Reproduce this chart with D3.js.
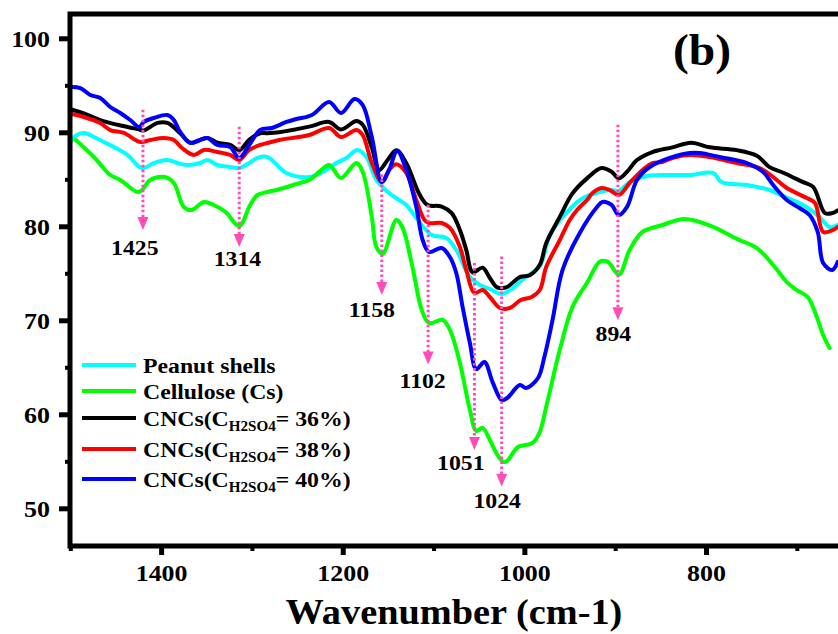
<!DOCTYPE html>
<html><head><meta charset="utf-8">
<script src="https://cdn.jsdelivr.net/npm/d3@7"></script>
<style>body{margin:0;background:#fff}</style>
</head><body>
<svg id="c" width="838" height="634"></svg>
<script>
// ---- data: [wavenumber (cm-1), transmittance (%)] ----
const peanutShells = [[1500,88.97],[1493,89.71],[1484,89.93],[1474,89.50],[1463,88.97],[1452,88.44],[1437,87.59],[1424,86.31],[1419,86.20],[1408,86.73],[1393,87.05],[1382,86.73],[1371,86.52],[1357,86.73],[1349,87.05],[1338,86.52],[1324,86.31],[1314,86.20],[1303,86.73],[1294,87.27],[1283,87.37],[1262,85.67],[1237,85.24],[1222,85.78],[1207,86.73],[1196,87.27],[1184,88.12],[1174,87.37],[1163,84.93],[1149,83.54],[1138,82.80],[1130,82.27],[1119,80.88],[1102,79.07],[1086,78.75],[1075,77.48],[1060,74.60],[1049,73.76],[1038,73.33],[1025,72.80],[1014,73.33],[1000,74.50],[983,75.77],[972,79.07],[956,81.20],[937,82.91],[917,83.65],[904,83.86],[896,83.76],[884,84.71],[865,85.35],[840,85.46],[818,85.46],[792,85.67],[783,84.71],[755,84.39],[730,83.86],[715,83.22],[693,82.27],[675,81.00],[664,79.93],[655,80.14]];
const cellulose = [[1494,89.18],[1474,87.37],[1456,85.46],[1445,84.93],[1426,83.65],[1421,83.86],[1412,84.93],[1396,85.24],[1386,84.61],[1375,82.06],[1366,81.74],[1353,82.59],[1342,82.27],[1329,81.52],[1314,80.03],[1302,82.27],[1294,83.33],[1283,83.65],[1273,83.86],[1251,84.50],[1237,84.93],[1226,85.78],[1215,86.52],[1202,85.14],[1185,86.73],[1178,85.78],[1168,81.00],[1163,77.80],[1156,77.06],[1141,80.67],[1134,79.82],[1123,75.56],[1113,71.09],[1105,69.71],[1090,70.05],[1082,68.98],[1071,65.47],[1060,60.47],[1053,58.24],[1046,58.56],[1038,57.28],[1031,55.90],[1023,54.93],[1019,55.03],[1007,56.52],[991,56.95],[983,58.12],[976,60.78],[961,66.86],[947,71.43],[931,73.99],[917,76.22],[908,76.22],[896,74.84],[884,77.50],[870,79.40],[848,80.14],[826,80.78],[815,80.67],[792,79.93],[766,78.66],[744,77.69],[726,75.88],[711,74.07],[700,73.22],[688,72.48],[678,70.35],[671,68.44],[664,67.05]];
const cncs36 = [[1498,92.4],[1485,92.0],[1467,91.3],[1448,90.8],[1424,90.3],[1419,90.2],[1404,91.0],[1393,91.0],[1379,89.9],[1368,88.9],[1357,89.2],[1349,89.4],[1338,88.9],[1324,88.65],[1314,88.1],[1303,89.2],[1291,89.9],[1283,89.9],[1270,90.0],[1237,90.6],[1215,91.1],[1202,90.3],[1185,91.2],[1178,90.8],[1168,88.4],[1160,86.0],[1151,87.0],[1141,88.1],[1130,86.7],[1116,83.5],[1107,82.3],[1091,82.1],[1080,81.4],[1071,79.6],[1064,77.5],[1057,75.1],[1046,75.6],[1038,74.5],[1030,73.5],[1020,73.5],[1005,74.6],[994,74.8],[983,75.9],[976,78.2],[961,81.0],[947,83.5],[931,85.1],[915,86.2],[904,85.8],[896,85.1],[887,85.8],[876,87.05],[859,87.9],[837,88.4],[816,88.9],[796,88.4],[766,88.1],[744,87.5],[730,86.3],[715,85.7],[693,84.7],[682,84.2],[669,81.4],[661,81.4],[655,81.7]];
const cncs38 = [[1498,91.95],[1485,91.63],[1467,90.99],[1456,90.24],[1441,89.93],[1423,88.97],[1412,89.18],[1397,89.39],[1386,89.18],[1377,88.33],[1364,87.59],[1353,88.12],[1338,87.90],[1324,87.59],[1314,87.05],[1303,88.12],[1291,88.65],[1283,88.86],[1270,89.18],[1237,89.71],[1215,90.46],[1202,89.50],[1185,90.24],[1178,89.71],[1168,86.73],[1157,84.71],[1149,85.99],[1141,86.6],[1130,85.67],[1119,82.80],[1110,80.67],[1105,80.35],[1091,80.35],[1082,79.82],[1071,77.80],[1064,75.35],[1055,72.91],[1046,73.22],[1038,72.48],[1027,71.31],[1016,71.31],[1004,72.16],[992,72.48],[983,73.22],[976,75.67],[961,78.54],[950,80.67],[942,81.74],[931,82.80],[925,83.54],[915,84.07],[906,83.86],[896,83.33],[884,84.61],[870,85.99],[859,86.73],[848,86.84],[837,87.27],[818,87.59],[796,87.37],[766,86.73],[741,86.20],[726,85.24],[711,84.07],[689,83.01],[680,82.48],[671,79.40],[660,79.61],[655,79.93]];
const cncs40 = [[1498,94.82],[1489,94.71],[1478,93.97],[1467,93.65],[1456,92.69],[1445,92.05],[1434,91.31],[1424,90.56],[1419,91.10],[1408,91.52],[1393,91.84],[1386,91.31],[1379,90.03],[1368,88.86],[1357,89.18],[1349,89.39],[1338,88.65],[1324,88.44],[1314,87.27],[1303,88.65],[1291,90.24],[1278,90.46],[1262,91.10],[1251,91.41],[1234,91.84],[1215,93.22],[1202,92.05],[1187,93.54],[1178,92.90],[1168,89.50],[1157,84.71],[1149,85.99],[1140,88.01],[1130,85.99],[1119,82.06],[1112,78.54],[1105,77.27],[1091,77.69],[1082,76.73],[1075,75.03],[1068,71.41],[1060,67.58],[1053,64.81],[1044,65.56],[1035,63.43],[1025,61.52],[1019,61.73],[1005,63.11],[998,62.79],[985,63.86],[978,66.10],[969,70.03],[958,75.35],[939,79.29],[920,82.06],[914,82.59],[904,82.27],[896,81.20],[887,82.06],[876,84.93],[862,86.31],[840,87.27],[818,87.80],[807,87.80],[785,87.37],[755,86.73],[737,85.78],[726,84.39],[711,82.80],[697,81.95],[686,81.20],[677,79.40],[671,76.10],[661,75.35],[655,76.21]];

const seriesData = [peanutShells, cellulose, cncs36, cncs38, cncs40];
const seriesColors = ["#00ffff", "#00ff00", "#000000", "#ff0000", "#0000ff"];
const legendMain = ["Peanut shells", "Cellulose (Cs)", "CNCs(C", "CNCs(C", "CNCs(C"];
const legendSub = ["", "", "H2SO4", "H2SO4", "H2SO4"];
const legendTail = ["", "", "= 36%)", "= 38%)", "= 40%)"];

// peak annotations
const peakLabels = ["1425", "1314", "1158", "1102", "1051", "1024", "894"];
const peakWn = [1420, 1314, 1157, 1106, 1055, 1025, 897];
const arrowTop = [92.4, 90.6, 85.5, 82.3, 76.1, 76.8, 90.8];
const arrowTip = [79.6, 77.8, 72.7, 65.3, 56.2, 52.3, 70.0];
const labelWn = [1429, 1316, 1168, 1112, 1070, 1030, 902];
const labelT = [76.9, 75.8, 70.3, 62.8, 54.1, 50.0, 67.8];

const xTicks = [1400, 1200, 1000, 800];
const xMinorTicks = [1500, 1300, 1100, 900, 700];
const yTicks = [50, 60, 70, 80, 90, 100];
const yMinorTicks = [55, 65, 75, 85, 95];

// ---- layout ----
const S = 1.08; // horizontal text stretch
const svg = d3.select("#c");
svg.append("rect").attr("width", 838).attr("height", 634).attr("fill", "#fff");
const x = d3.scaleLinear().domain([1500, 800]).range([70.3, 706]);
const y = d3.scaleLinear().domain([50, 100]).range([508.3, 38.3]);
const plotLeft = 70, plotTop = 14, plotBottom = 546;
const font = "'Liberation Serif','Times New Roman',serif";

svg.append("clipPath").attr("id", "clip").append("rect")
  .attr("x", plotLeft).attr("y", plotTop).attr("width", 900).attr("height", plotBottom - plotTop);

const line = d3.line().x(d => x(d[0])).y(d => y(d[1])).curve(d3.curveCatmullRom.alpha(0.5));
const plot = svg.append("g").attr("clip-path", "url(#clip)");
seriesData.forEach((s, i) => {
  plot.append("path").attr("d", line(s)).attr("fill", "none")
    .attr("stroke", seriesColors[i]).attr("stroke-width", 4)
    .attr("stroke-linejoin", "round").attr("stroke-linecap", "round");
});

// arrows
const pink = "#ff4db8";
peakLabels.forEach((lab, i) => {
  const px = x(peakWn[i]);
  const yt = y(arrowTop[i]), yb = y(arrowTip[i]);
  svg.append("line").attr("x1", px).attr("x2", px).attr("y1", yt).attr("y2", yb - 10)
    .attr("stroke", pink).attr("stroke-width", 3).attr("stroke-dasharray", "2.5,2.5");
  svg.append("path").attr("d", `M${px - 5.5},${yb - 13}L${px + 5.5},${yb - 13}L${px},${yb}Z`).attr("fill", pink);
  svg.append("text").attr("transform", `translate(${x(labelWn[i])},${y(labelT[i])}) scale(${S},1)`)
    .attr("text-anchor", "middle").attr("font-family", font).attr("font-weight", "bold")
    .attr("font-size", 22).attr("fill", "#000").text(lab);
});

// frame
svg.append("rect").attr("x", plotLeft).attr("y", plotTop).attr("width", 900).attr("height", plotBottom - plotTop)
  .attr("fill", "none").attr("stroke", "#000").attr("stroke-width", 5);

// x axis
const gx = svg.append("g").attr("transform", `translate(0,${plotBottom})`)
  .call(d3.axisBottom(x).tickValues(xTicks).tickSize(9).tickSizeOuter(0).tickFormat(d3.format("d")));
gx.select(".domain").remove();
gx.selectAll("line").attr("stroke", "#000").attr("stroke-width", 5);
gx.selectAll("text").attr("y", 0).attr("dy", 0).attr("transform", `translate(0,35) scale(${S},1)`)
  .attr("font-family", font).attr("font-weight", "bold").attr("font-size", 24).attr("fill", "#000");
const gxm = svg.append("g").attr("transform", `translate(0,${plotBottom})`)
  .call(d3.axisBottom(x).tickValues(xMinorTicks).tickSize(5).tickSizeOuter(0).tickFormat(""));
gxm.select(".domain").remove();
gxm.selectAll("line").attr("stroke", "#000").attr("stroke-width", 4);

// y axis
const gy = svg.append("g").attr("transform", `translate(${plotLeft},0)`)
  .call(d3.axisLeft(y).tickValues(yTicks).tickSize(11).tickSizeOuter(0).tickFormat(d3.format("d")));
gy.select(".domain").remove();
gy.selectAll("line").attr("stroke", "#000").attr("stroke-width", 5);
gy.selectAll("text").attr("x", 0).attr("dy", "0.35em").attr("transform", `translate(-20,0) scale(${S},1)`)
  .attr("font-family", font).attr("font-weight", "bold").attr("font-size", 24).attr("fill", "#000");
const gym = svg.append("g").attr("transform", `translate(${plotLeft},0)`)
  .call(d3.axisLeft(y).tickValues(yMinorTicks).tickSize(5).tickSizeOuter(0).tickFormat(""));
gym.select(".domain").remove();
gym.selectAll("line").attr("stroke", "#000").attr("stroke-width", 4);

// axis title
svg.append("text").attr("transform", `translate(454,624) scale(${S},1)`).attr("text-anchor", "middle")
  .attr("font-family", font).attr("font-weight", "bold").attr("font-size", 35.5).attr("fill", "#000")
  .text("Wavenumber (cm-1)");

// panel label
svg.append("text").attr("transform", `translate(702,65) scale(${S},1)`).attr("text-anchor", "middle")
  .attr("font-family", font).attr("font-weight", "bold").attr("font-size", 44).attr("fill", "#000")
  .text("(b)");

// legend
const legBase = [373, 399, 426, 457, 487];
legendMain.forEach((m, i) => {
  const b = legBase[i];
  svg.append("line").attr("x1", 82).attr("x2", 136).attr("y1", b - 8).attr("y2", b - 8)
    .attr("stroke", seriesColors[i]).attr("stroke-width", 4);
  const t = svg.append("text").attr("transform", `translate(143,${b}) scale(${S},1)`)
    .attr("font-family", font).attr("font-weight", "bold").attr("font-size", 22).attr("fill", "#000");
  t.append("tspan").text(m);
  if (legendSub[i]) {
    t.append("tspan").attr("font-size", 14).attr("dy", 5).text(legendSub[i]);
    t.append("tspan").attr("dy", -5).text(legendTail[i]);
  }
});
</script>
</body></html>
